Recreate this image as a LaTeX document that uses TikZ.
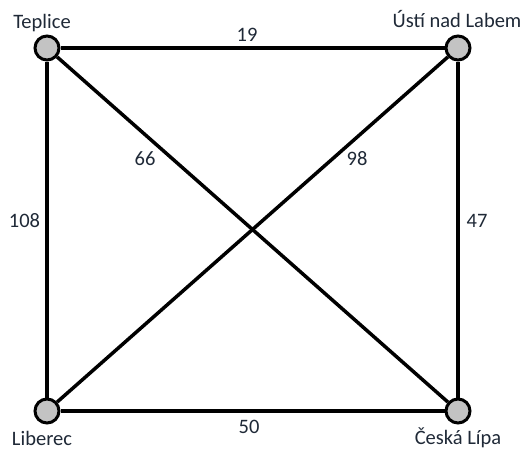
\documentclass[tikz,border=0pt]{standalone}
\usepackage{fontspec}
\setmainfont{Carlito}
\usetikzlibrary{positioning}
\definecolor{ink}{HTML}{000000}
\definecolor{dot}{HTML}{C3C3C3}
\definecolor{word}{HTML}{1F2937}
\tikzset{
  city/.style={circle,draw=ink,fill=dot,line width=3pt,minimum size=24pt,inner sep=0pt},
  cityname/.style={font=\fontsize{20.5}{24}\selectfont,text=word,anchor=base,inner sep=0pt},
  dist/.style={font=\fontsize{20.5}{24}\selectfont,text=word,anchor=base,inner sep=0pt},
  road/.style={line width=3.5pt,draw=ink}
}

\begin{document}
\begin{tikzpicture}[x=1pt,y=-1pt]
    \useasboundingbox (0,0) rectangle (522,450);

    \node[city] (teplice) at (47,48) {};
    \node[city] (usti) at (458,48) {};
    \node[city] (liberec) at (47,411) {};
    \node[city] (lipa) at (458,411) {};

    \draw[road] (teplice) -- (usti);
    \draw[road] (teplice) -- (liberec);
    \draw[road] (usti) -- (lipa);
    \draw[road] (liberec) -- (lipa);
    \draw[road] (teplice) -- (lipa);
    \draw[road] (liberec) -- (usti);

    \node[cityname] (teplicename) at (42,28) {Teplice};
    \node[cityname] (ustiname) at (457,27) {Ústí nad Labem};
    \node[cityname] (liberecname) at (42,445) {Liberec};
    \node[cityname] (lipaname) at (458,444) {Česká Lípa};

    \node[dist] (d19) at (247,41) {19};
    \node[dist] (d66) at (145,165) {66};
    \node[dist] (d98) at (357,165) {98};
    \node[dist] (d108) at (24.5,227) {108};
    \node[dist] (d47) at (477,227) {47};
    \node[dist] (d50) at (249,433) {50};
  \end{tikzpicture}
\end{document}
